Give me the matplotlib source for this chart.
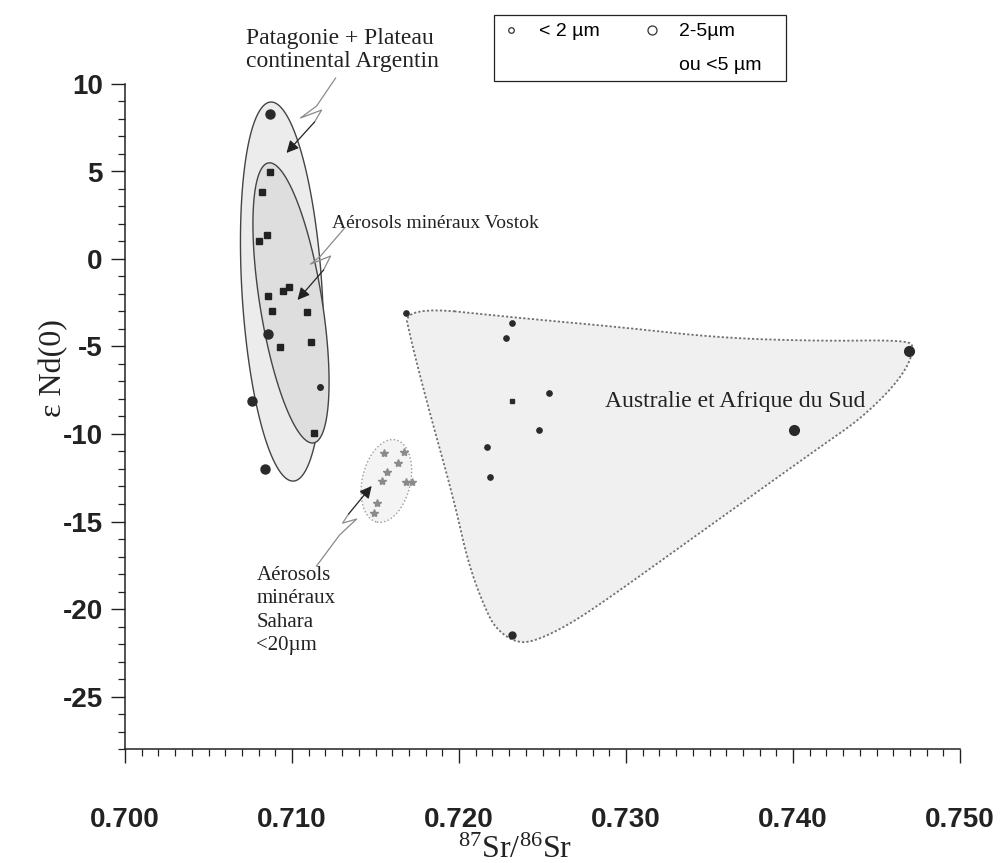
import numpy as np
import matplotlib
matplotlib.use('Agg')
import matplotlib.pyplot as plt
from matplotlib.patches import Polygon
from matplotlib.lines import Line2D
from matplotlib.ticker import MultipleLocator, FormatStrFormatter

plt.rcParams['font.family'] = ['Liberation Sans', 'DejaVu Sans']
plt.rcParams['axes.unicode_minus'] = False
plt.rcParams['mathtext.fontset'] = 'custom'
plt.rcParams['mathtext.rm'] = 'Liberation Serif'
SERIF = ['Liberation Serif', 'DejaVu Serif']

# --- data (87Sr/86Sr, eps Nd(0)) ---
# Patagonie + plateau argentin, 2-5 um (large dots)
pat_x = [0.70869, 0.70855, 0.70759, 0.70839]
pat_y = [8.29, -4.30, -8.11, -12.02]
# Patagonie, < 2 um (small dot)
pat_small_x = [0.71169]
pat_small_y = [-7.33]
# Vostok mineral aerosols (squares)
vos_x = [0.70869, 0.70819, 0.70849, 0.70805, 0.70855, 0.70949, 0.70983,
         0.70879, 0.71089, 0.70929, 0.71115, 0.71129]
vos_y = [4.99, 3.85, 1.37, 1.05, -2.11, -1.81, -1.62, -2.97, -3.01,
         -5.01, -4.76, -9.96]
# Sahara aerosols < 20 um
sah_x = [0.71550, 0.71670, 0.71635, 0.71569, 0.71539, 0.71682, 0.71718,
         0.71509, 0.71489]
sah_y = [-11.10, -11.05, -11.67, -12.15, -12.69, -12.73, -12.73, -13.93, -14.50]
# Australie et Afrique du Sud
aus_small_x = [0.71682, 0.72317, 0.72281, 0.72536, 0.72480, 0.72170, 0.72186]
aus_small_y = [-3.09, -3.67, -4.50, -7.64, -9.77, -10.73, -12.46]
aus_sq_x = [0.72320]
aus_sq_y = [-8.11]
aus_big_x = [0.72320, 0.74006, 0.74697]
aus_big_y = [-21.49, -9.77, -5.26]

# envelopes: (top tip, bottom tip, half width in x units)
outer_env = ((0.70872, 8.97), (0.71009, -12.69), 0.00240)
inner_env = ((0.70859, 5.49), (0.71129, -10.51), 0.00186)
sahara_env = ((0.71622, -10.34), (0.71508, -15.03), 0.00144)
aus_env_x = [0.71670, 0.72360, 0.72961, 0.73562, 0.74162, 0.74673, 0.74733,
             0.74655, 0.74420, 0.74162, 0.73441, 0.72823, 0.72601, 0.72420,
             0.72324, 0.72240, 0.72180, 0.72060, 0.71970, 0.71820, 0.71712]
aus_env_y = [-2.69, -3.37, -3.89, -4.51, -4.69, -4.63, -5.03, -6.74, -9.03,
             -10.74, -15.66, -19.89, -21.20, -21.94, -21.83, -21.26, -20.51,
             -17.60, -13.77, -8.63, -4.63]

xticks = [0.700, 0.710, 0.720, 0.730, 0.740, 0.750]
yticks = [10, 5, 0, -5, -10, -15, -20, -25]

W, H = 1004, 863
fig = plt.figure(figsize=(W / 100, H / 100), dpi=100)
L, R, B, T = 125 / W, 960 / W, 1 - 749 / H, 1 - 84 / H
ax = fig.add_axes([L, B, R - L, T - B])
ax.set_xlim(0.700, 0.750)
ax.set_ylim(-28, 10)

kx = W * (R - L) / 0.05
ky = H * (T - B) / 38.0


def ellipse_pts(env, n=240):
    (xa, ya), (xb, yb), hw = env
    x1, y1, x2, y2 = xa * kx, ya * ky, xb * kx, yb * ky
    cx, cy = (x1 + x2) / 2, (y1 + y2) / 2
    a = np.hypot(x2 - x1, y2 - y1) / 2
    ux, uy = (x2 - x1) / (2 * a), (y2 - y1) / (2 * a)
    b = hw * kx
    t = np.linspace(0, 2 * np.pi, n)
    px = cx + a * np.cos(t) * ux - b * np.sin(t) * uy
    py = cy + a * np.cos(t) * uy + b * np.sin(t) * ux
    return np.column_stack([px / kx, py / ky])


def chaikin(pts, n=3):
    p = np.asarray(pts, dtype=float)
    for _ in range(n):
        q = np.roll(p, -1, axis=0)
        new = np.empty((2 * len(p), 2))
        new[0::2] = 0.75 * p + 0.25 * q
        new[1::2] = 0.25 * p + 0.75 * q
        p = new
    return p


# envelopes
ax.add_patch(Polygon(ellipse_pts(outer_env), closed=True, fc='#ececec',
                     ec='#444444', lw=1.0, zorder=1))
ax.add_patch(Polygon(ellipse_pts(inner_env), closed=True, fc='#dedede',
                     ec='#444444', lw=1.0, zorder=1.2))
ax.add_patch(Polygon(ellipse_pts(sahara_env), closed=True, fc='#f4f4f4',
                     ec='#9a9a9a', lw=1.0, ls=':', zorder=1))
aus_pts = chaikin(np.column_stack([aus_env_x, aus_env_y]), 3)
ax.add_patch(Polygon(aus_pts, closed=True, fc='#f0f0f0', ec='none', zorder=0.9))
ax.add_patch(Polygon(aus_pts, closed=True, fc='none', ec='#707070', lw=1.3,
                     ls=(0, (1.2, 1.2)), zorder=1))

# points
ax.plot(pat_x, pat_y, 'o', ms=6.5, color='#2a2a2a', zorder=3)
ax.plot(pat_small_x, pat_small_y, 'o', ms=4, color='#2a2a2a', zorder=3)
ax.plot(vos_x, vos_y, 's', ms=5, color='#222222', zorder=3)
ax.plot(sah_x, sah_y, '*', ms=6, color='#8a8a8a', zorder=3)
ax.plot(aus_small_x, aus_small_y, 'o', ms=3.8, color='#2a2a2a', zorder=3)
ax.plot(aus_sq_x, aus_sq_y, 's', ms=3.5, color='#2a2a2a', zorder=3)
ax.plot(aus_big_x[:1], aus_big_y[:1], 'o', ms=5, color='#2a2a2a', zorder=3)
ax.plot(aus_big_x[1:], aus_big_y[1:], 'o', ms=7, color='#2a2a2a', zorder=3)

# lightning-style arrows
bolts = [
    ([0.71261, 0.71147, 0.71051, 0.71177, 0.71135], [10.34, 8.74, 8.06, 8.51, 7.83], (0.70967, 6.06)),
    ([0.71315, 0.71171, 0.71111, 0.71231, 0.71189], [1.77, 0.17, -0.29, 0.17, -0.63], (0.71033, -2.34)),
    ([0.71147, 0.71285, 0.71387, 0.71303, 0.71339], [-17.54, -15.77, -14.86, -15.09, -14.57], (0.71477, -12.97)),
]
for bx, by, tip in bolts:
    ax.plot(bx, by, color='#8a8a8a', lw=0.9, clip_on=False, zorder=4)
    ax.annotate('', xy=tip, xytext=(bx[-1], by[-1]),
                arrowprops=dict(arrowstyle='-|>', color='#222222', lw=0.9,
                                mutation_scale=18, shrinkA=0, shrinkB=0),
                annotation_clip=False, zorder=4)

# annotations
ax.text(0.70725, 11.95, 'Patagonie + Plateau\ncontinental Argentin',
        family=SERIF, fontsize=17, ha='left', va='center', linespacing=1.15,
        color='#222222', clip_on=False)
ax.text(0.71237, 2.0, 'Aérosols minéraux Vostok', family=SERIF, fontsize=14,
        ha='left', va='center', color='#222222')
ax.text(0.70787, -17.55, 'Aérosols\nminéraux\nSahara\n<20µm', family=SERIF,
        fontsize=15, ha='left', va='top', linespacing=1.3, color='#222222')
ax.text(0.72877, -8.15, 'Australie et Afrique du Sud', family=SERIF,
        fontsize=17, ha='left', va='center', color='#222222')

# axes styling
for s in ['top', 'right']:
    ax.spines[s].set_visible(False)
for s in ['left', 'bottom']:
    ax.spines[s].set_linewidth(1.1)
    ax.spines[s].set_color('#222222')
ax.set_xticks(xticks)
ax.set_yticks(yticks)
ax.xaxis.set_minor_locator(MultipleLocator(0.001))
ax.yaxis.set_minor_locator(MultipleLocator(1))
ax.xaxis.set_major_formatter(FormatStrFormatter('%.3f'))
ax.tick_params(which='major', direction='out', length=10, width=1.0, color='#222222')
ax.tick_params(which='minor', direction='out', length=5, width=0.9, color='#222222')
ax.tick_params(axis='x', which='major', pad=32)
ax.tick_params(axis='y', which='major', pad=6)
for lab in ax.get_xticklabels() + ax.get_yticklabels():
    lab.set_fontsize(20)
    lab.set_fontweight('bold')
    lab.set_color('#222222')

fig.text(54 / W, 1 - 368 / H, 'ε Nd(0)', family=SERIF, fontsize=23,
         rotation=90, ha='center', va='center', color='#222222')
fig.text(515 / W, 1 - 850 / H, r'$\mathrm{^{87}Sr/^{86}Sr}$', fontsize=23,
         ha='center', va='center', color='#222222')

# legend
h_small = Line2D([], [], ls='none', marker='o', ms=4, mfc='white', mec='#333333', mew=0.9)
h_big = Line2D([], [], ls='none', marker='o', ms=6.5, mfc='white', mec='#333333', mew=0.9)
h_none = Line2D([], [], ls='none', marker='none')
leg = ax.legend([h_small, h_none, h_big, h_none],
                ['< 2 µm', ' ', '2-5µm', 'ou <5 µm   '],
                ncol=2, loc='upper left', bbox_to_anchor=(494 / W, 1 - 15 / H),
                bbox_transform=fig.transFigure, frameon=True, fancybox=False,
                edgecolor='#222222', framealpha=1, fontsize=14,
                handlelength=1.0, handletextpad=0.9, columnspacing=2.2,
                borderpad=0.4, labelspacing=0.8, borderaxespad=0)
leg.get_frame().set_linewidth(0.9)

fig.savefig('out.png', dpi=100)
